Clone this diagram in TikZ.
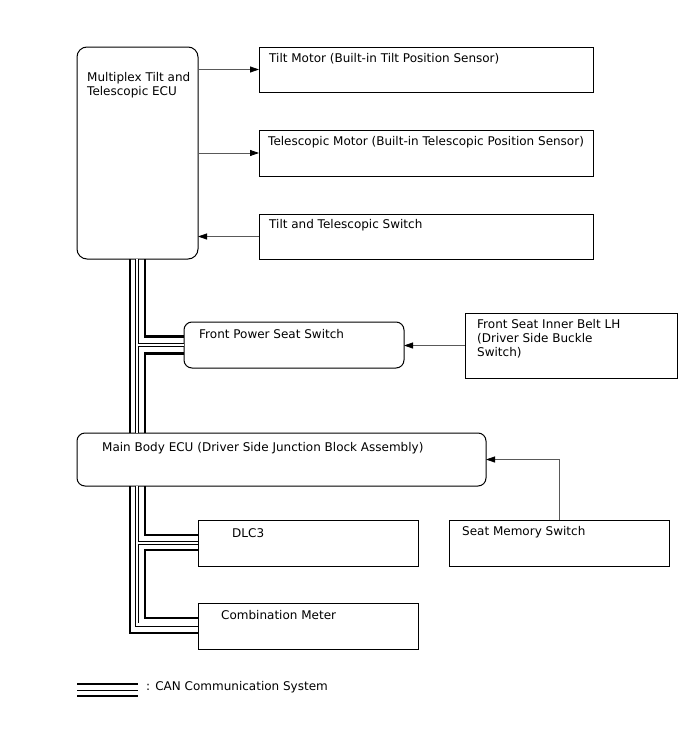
\documentclass[tikz,border=0pt]{standalone}
\usepackage{fontspec}
\setmainfont{DejaVu Sans}
\usetikzlibrary{arrows.meta,calc}
\begin{document}
\begin{tikzpicture}[x=1pt,y=-1pt,
  box/.style={draw=black, line width=1pt, fill=white, inner sep=0pt, outer sep=0pt, anchor=north west},
  rbox/.style={box, rounded corners=8pt},
  lbl/.style={anchor=base west, inner sep=0pt, font=\fontsize{12}{14}\selectfont, align=left},
  thk/.style={line width=2.2pt},
  mid/.style={double=white, double distance=2.6pt, line width=0.7pt},
  arr/.style={draw=black!65, line width=0.8pt, -{Triangle[length=9pt,width=6pt,color=black]}}
]
\useasboundingbox (0,0) rectangle (688,755);

% boxes
\node[rbox, rounded corners=10pt, minimum width=121pt, minimum height=212pt] (mpx) at (77,47) {};
\node[box, minimum width=334pt, minimum height=45pt] (tm) at (259,47) {};
\node[box, minimum width=334pt, minimum height=46pt] (tsm) at (259,130) {};
\node[box, minimum width=334pt, minimum height=45pt] (sw) at (259,214) {};
\node[rbox, minimum width=220pt, minimum height=46pt] (fps) at (184,322) {};
\node[box, minimum width=212pt, minimum height=65pt] (belt) at (465,313) {};
\node[rbox, minimum width=409pt, minimum height=53pt] (mb) at (77,433) {};
\node[box, minimum width=220pt, minimum height=46pt] (dlc) at (198,520) {};
\node[box, minimum width=220pt, minimum height=46pt] (smem) at (449,520) {};
\node[box, minimum width=220pt, minimum height=45.5pt] (cm) at (198,603.5) {};

% labels (base anchor of a multi-line node is its last line)
\node[lbl] (mpxT) at (87,95) {Multiplex Tilt and\\Telescopic ECU};
\node[lbl] (tmT) at (269,62) {Tilt Motor (Built-in Tilt Position Sensor)};
\node[lbl] (tsmT) at (268,145) {Telescopic Motor (Built-in Telescopic Position Sensor)};
\node[lbl] (swT) at (269,228) {Tilt and Telescopic Switch};
\node[lbl] (fpsT) at (199,338) {Front Power Seat Switch};
\node[lbl] (beltT) at (477,356) {Front Seat Inner Belt LH\\(Driver Side Buckle\\Switch)};
\node[lbl] (mbT) at (102,451) {Main Body ECU (Driver Side Junction Block Assembly)};
\node[lbl] (dlcT) at (232,537) {DLC3};
\node[lbl] (smemT) at (462,535) {Seat Memory Switch};
\node[lbl] (cmT) at (221,619) {Combination Meter};

% bus helper coordinates
\coordinate (xo) at (130.3,0);
\coordinate (xm) at (136.8,0);
\coordinate (xi) at (145.3,0);
\coordinate (fpsA) at ([yshift=8.5pt]fps.west);
\coordinate (fpsC) at ([yshift=-8.5pt]fps.west);
\coordinate (dlcA) at ([yshift=8pt]dlc.west);
\coordinate (dlcC) at ([yshift=-7pt]dlc.west);
\coordinate (cmA) at ([yshift=8.5pt]cm.west);
\coordinate (cmB) at ([yshift=1.5pt]cm.west);
\coordinate (cmC) at ([yshift=-7pt]cm.west);

% CAN bus - middle (double) conductor
\draw[mid] (mpx.south -| xm) -- (mb.north -| xm)
  (fps.west) -- (fps.west -| xm)
  (mb.south -| xm) |- (cmB)
  (dlc.west) -- (dlc.west -| xm);
% outer conductor
\draw[thk] (mpx.south -| xo) -- (mb.north -| xo);
\draw[thk] (mb.south -| xo) |- (cmC);
% inner conductor
\draw[thk] (mpx.south -| xi) |- (fpsA);
\draw[thk] (fpsC) -| (mb.north -| xi);
\draw[thk] (mb.south -| xi) |- (dlcA);
\draw[thk] (dlcC) -| (cmA -| xi) -- (cmA);

% signal arrows
\draw[arr] (mpx.east |- tm.west) -- (tm.west);
\draw[arr] (mpx.east |- tsm.west) -- (tsm.west);
\draw[arr] (sw.west) -- (sw.west -| mpx.east);
\draw[arr] (belt.west) -- (belt.west -| fps.east);
\draw[arr] (smem.north) |- (mb.east);

% legend
\coordinate (lg1) at (77,684);
\coordinate (lg2) at (138,684);
\draw[thk] (lg1) -- (lg2);
\draw[line width=0.8pt] ([yshift=-6pt]lg1) -- ([yshift=-6pt]lg2);
\draw[thk] ([yshift=-12pt]lg1) -- ([yshift=-12pt]lg2);
\node[lbl] (legT) at (146,690) {: CAN Communication System};
\end{tikzpicture}
\end{document}
